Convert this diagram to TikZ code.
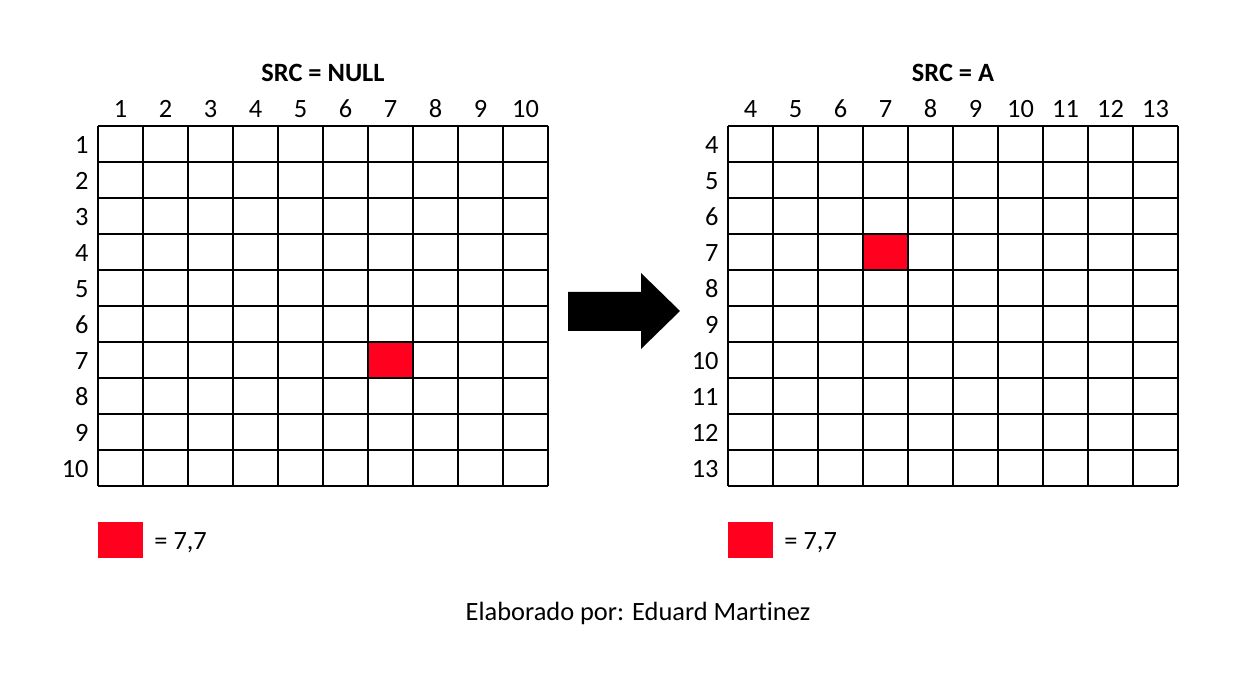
\documentclass[tikz,border=0pt]{standalone}
\usepackage{fontspec}
\setmainfont[Ligatures=NoCommon]{Carlito}
\definecolor{cellred}{RGB}{255,0,31}

\begin{document}
\begin{tikzpicture}[x=0.5pt,y=-0.5pt,
		every node/.style = {font=\fontsize{13.2}{15}\selectfont, inner sep=0pt},
		title/.style = {font=\fontsize{13.2}{15}\selectfont\bfseries},
		gridline/.style = {line width=0.55pt, black},
		mark cell/.style = {fill=cellred},
		big arrow/.style = {fill=black}
	]
	\useasboundingbox (0,0) rectangle (1239,678);

	% left grid, SRC = NULL
	\node[title] (tleft) at (323,73) {SRC = NULL};
	\fill[mark cell] (368,342) rectangle (413,378);
	\foreach \i in {0,...,10} {
		\draw[gridline] (98+45*\i,126) -- (98+45*\i,486);
		\draw[gridline] (98,126+36*\i) -- (548,126+36*\i);
	}
	\foreach \i in {1,...,10} {
		\node (lc\i) at (75.5+45*\i,109) {\i};
		\node[anchor=east] (lr\i) at (89,109+36*\i) {\i};
	}

	% arrow
	\fill[big arrow] (568,292) -- (641,292) -- (641,273) -- (680,311)
		-- (641,349) -- (641,331) -- (568,331) -- cycle;

	% right grid, SRC = A
	\node[title] (tright) at (953,73) {SRC = A};
	\fill[mark cell] (863,234) rectangle (908,270);
	\foreach \i in {0,...,10} {
		\draw[gridline] (728+45*\i,126) -- (728+45*\i,486);
		\draw[gridline] (728,126+36*\i) -- (1178,126+36*\i);
	}
	\foreach \i [evaluate=\i as \n using int(\i+3)] in {1,...,10} {
		\node (rc\i) at (705.5+45*\i,109) {\n};
		\node[anchor=east] (rr\i) at (719,109+36*\i) {\n};
	}

	% legends
	\fill[mark cell] (98,522) rectangle (143,558);
	\node[anchor=west] (lleg) at (154,543) {= 7,7};
	\fill[mark cell] (728,522) rectangle (773,558);
	\node[anchor=west] (rleg) at (784,543) {= 7,7};

	\node (credit) at (638,613) {Elaborado por: Eduard Martinez};
\end{tikzpicture}
\end{document}
